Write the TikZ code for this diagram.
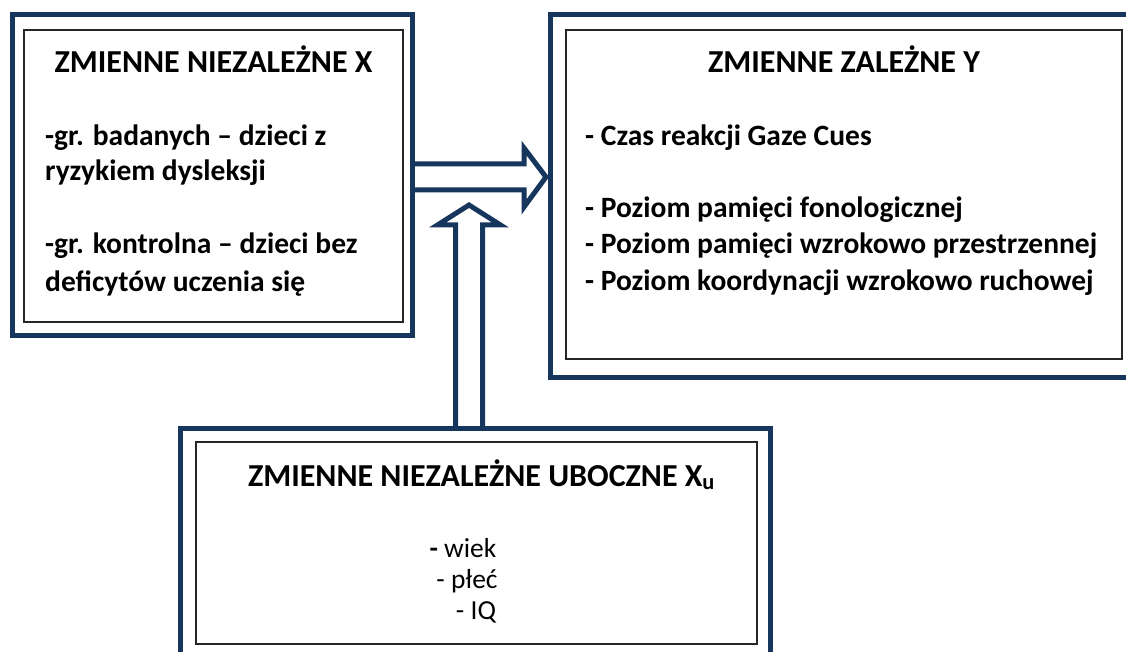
\documentclass[tikz,border=0pt]{standalone}
\usepackage{fontspec}
\setmainfont{Carlito}
\usetikzlibrary{calc}
\definecolor{boxblue}{RGB}{23,54,93}

\begin{document}
\begin{tikzpicture}[x=1pt,y=-1pt,
    outerbox/.style={draw=boxblue, line width=5pt, outer sep=0pt, inner sep=0pt},
    innerbox/.style={draw=black!85, line width=1.3pt, outer sep=0pt, inner sep=0pt},
    headtext/.style={font=\fontsize{32}{38}\selectfont\bfseries, inner sep=0pt, anchor=base},
    itemtext/.style={font=\fontsize{29.5}{35}\selectfont\bfseries, inner sep=0pt, anchor=base west},
    smalltext/.style={font=\fontsize{27.5}{33}\selectfont, inner sep=0pt, anchor=base},
    blockline/.style={draw=boxblue, line width=5pt}]
    \clip (0,0) rectangle (1126,652);

    \node [outerbox, minimum width=400, minimum height=321] (lx) at (212.5,175) {};
    \node [innerbox, minimum width=379, minimum height=292] (lxin) at (213.5,176) {};
    \node [outerbox, minimum width=595, minimum height=363] (ry) at (847.5,196) {};
    \node [innerbox, minimum width=556, minimum height=329] (ryin) at (844,194.5) {};
    \node [outerbox, minimum width=590.5, minimum height=237] (zx) at (475.25,546.5) {};
    \node [innerbox, minimum width=561, minimum height=202] (zxin) at (476.5,543) {};

    \node [headtext] (lxtitle) at (lxin.center |- 0,73) {ZMIENNE NIEZALEŻNE X};
    \node [itemtext] (lxa) at (45,146) {-gr. badanych – dzieci z};
    \node [itemtext] (lxb) at (45,181) {ryzykiem dysleksji};
    \node [itemtext] (lxc) at (45,254) {-gr. kontrolna – dzieci bez};
    \node [itemtext] (lxd) at (45,291) {deficytów uczenia się};

    \node [headtext] (rytitle) at (ryin.center |- 0,73) {ZMIENNE ZALEŻNE Y};
    \node [itemtext] (rya) at (585,146) {- Czas reakcji Gaze Cues};
    \node [itemtext] (ryb) at (585,218) {- Poziom pamięci fonologicznej};
    \node [itemtext] (ryc) at (585,254) {- Poziom pamięci wzrokowo przestrzennej};
    \node [itemtext] (ryd) at (585,290) {- Poziom koordynacji wzrokowo ruchowej};

    \node [headtext] (zxtitle) at (481.5,486) {ZMIENNE NIEZALEŻNE UBOCZNE X\textsubscript{u}};
    \node [smalltext] (zxa) at (463,557) {{\bfseries -} wiek};
    \node [smalltext] (zxb) at (467,588) {- płeć};
    \node [smalltext] (zxc) at (476,619) {- IQ};

    \coordinate (hstart) at ($(lx.east)+(0,2)$);
    \coordinate (htip) at ($(ry.west |- hstart)+(-4,0)$);
    \draw [blockline] ($(hstart)+(0,-13)$) -- ($(htip)+(-22,-13)$) -- ($(htip)+(-22,-29)$)
        -- (htip) -- ($(htip)+(-22,30)$) -- ($(htip)+(-22,13)$) -- ($(hstart)+(0,13)$);

    \coordinate (vbase) at ($(zx.north)+(-6.25,0)$);
    \coordinate (vtip) at ($(vbase |- htip)+(0,28)$);
    \draw [blockline] ($(vbase)+(-13.5,0)$) -- ($(vtip)+(-13.5,20)$) -- ($(vtip)+(-31.5,20)$)
        -- (vtip) -- ($(vtip)+(31.5,20)$) -- ($(vtip)+(13.5,20)$) -- ($(vbase)+(13.5,0)$);
  \end{tikzpicture}
\end{document}
